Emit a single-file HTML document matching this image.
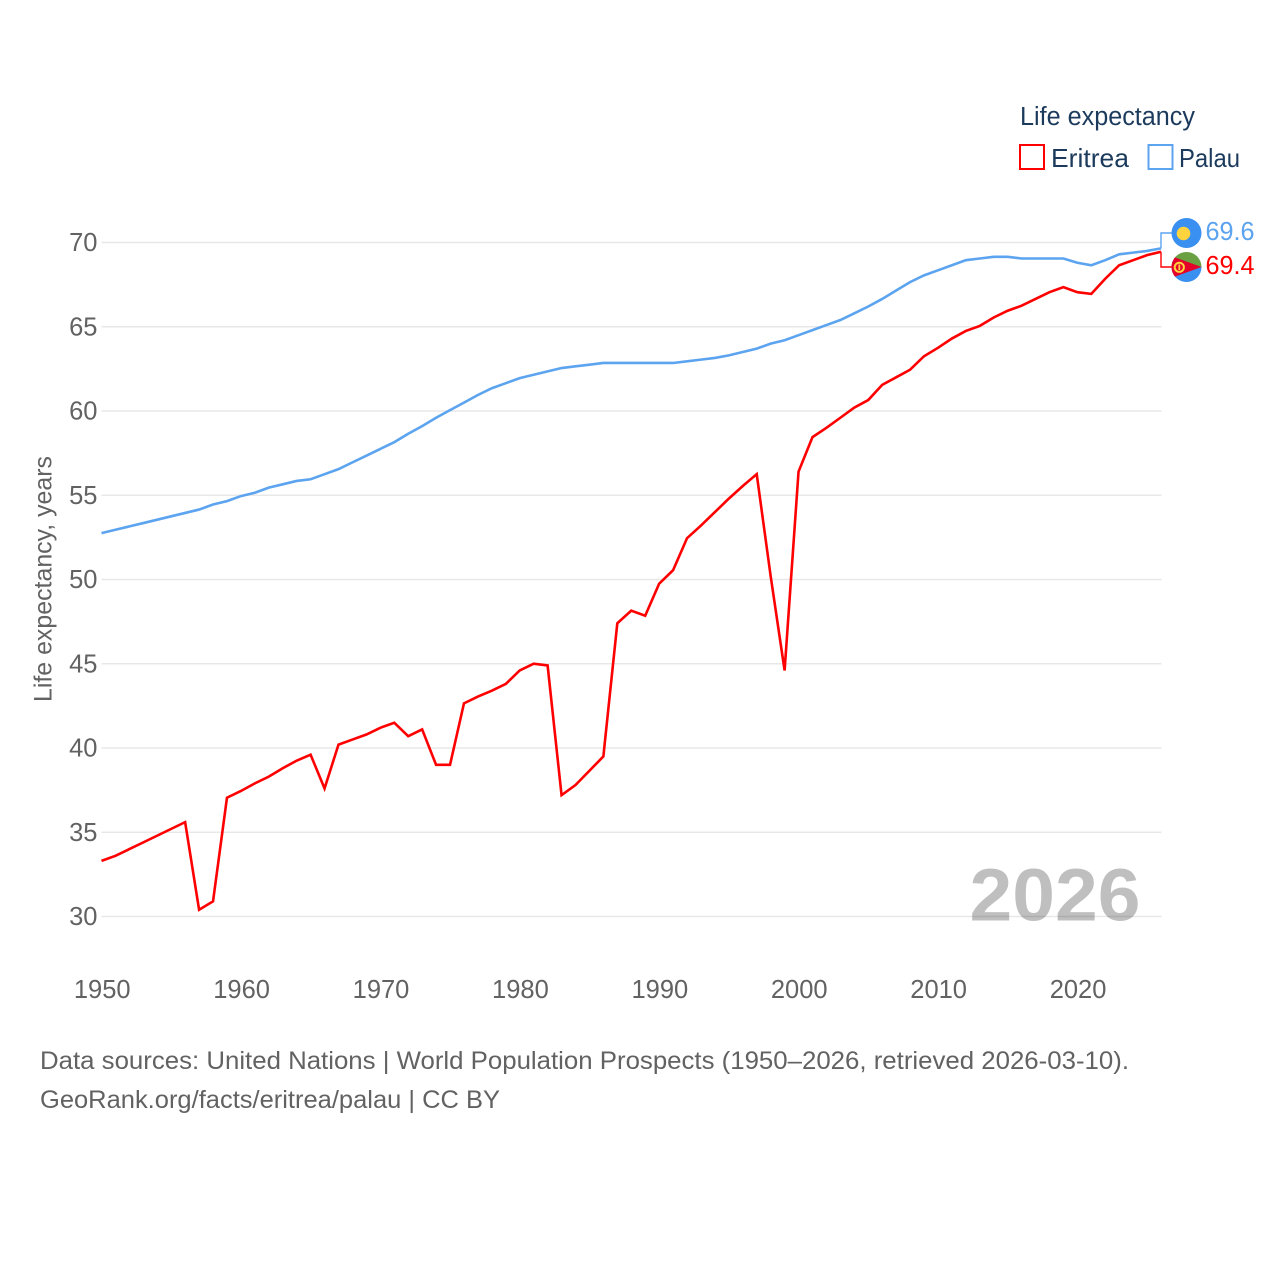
<!DOCTYPE html>
<html lang="en">
<head>
<meta charset="utf-8">
<title>Life expectancy: Eritrea and Palau</title>
<style>
html,body{margin:0;padding:0;background:#fff;width:1280px;height:1280px;overflow:hidden}
svg{display:block}
text{font-family:"Liberation Sans",sans-serif}
</style>
</head>
<body>
<svg id="chart" width="1280" height="1280" viewBox="0 0 1280 1280" xmlns="http://www.w3.org/2000/svg">
<rect x="0" y="0" width="1280" height="1280" fill="#fff"/>
<g id="grid"></g>
<g id="yticks"></g>
<g id="xticks"></g>
<text transform="translate(51.5,702) rotate(-90)" font-size="25" fill="#626262" textLength="246" lengthAdjust="spacingAndGlyphs">Life expectancy, years</text>
<text x="969.5" y="920.5" font-size="74" font-weight="700" fill="#000" fill-opacity="0.25" textLength="171" lengthAdjust="spacingAndGlyphs">2026</text>
<g id="lines"></g>
<g id="end-labels"></g>

<g>
<circle cx="1186.5" cy="233" r="15" fill="#3a90f0"/>
<circle cx="1183.5" cy="233.5" r="6.8" fill="#ffd33d"/>
</g>
<g>
<clipPath id="eritrea-clip"><circle cx="1186.5" cy="267" r="15"/></clipPath>
<g clip-path="url(#eritrea-clip)">
<rect x="1171" y="252" width="31" height="16" fill="#6a9f42"/>
<rect x="1171" y="267" width="31" height="15" fill="#3a90f0"/>
<polygon points="1171,256 1201.5,267 1171,278" fill="#e4002b"/>
<circle cx="1179.3" cy="267.3" r="4.6" fill="none" stroke="#ffd33d" stroke-width="2"/>
<rect x="1178.4" y="264.5" width="1.8" height="5.5" fill="#ffd33d"/>
</g>
</g>

<g>
<text x="1020" y="125" font-size="25.5" fill="#1b3a5c" textLength="175" lengthAdjust="spacingAndGlyphs">Life expectancy</text>
<g>
<rect x="1020" y="145" width="24" height="24" fill="#fff" stroke="#ff0000" stroke-width="2"/>
<text x="1051" y="167" font-size="26" fill="#1b3a5c" textLength="78" lengthAdjust="spacingAndGlyphs">Eritrea</text>
</g>
<g>
<rect x="1148.5" y="145" width="24" height="24" fill="#fff" stroke="#5ca4ef" stroke-width="2"/>
<text x="1179" y="167" font-size="26" fill="#1b3a5c" textLength="61" lengthAdjust="spacingAndGlyphs">Palau</text>
</g>
</g>

<text x="40" y="1069" font-size="25" fill="#626262" textLength="1089" lengthAdjust="spacingAndGlyphs">Data sources: United Nations | World Population Prospects (1950–2026, retrieved 2026-03-10).</text>
<text x="40" y="1108" font-size="25" fill="#626262" textLength="460" lengthAdjust="spacingAndGlyphs">GeoRank.org/facts/eritrea/palau | CC BY</text>
</svg>
<script>
const startYear = 1950;
const eritreaValues = [33.3,33.6,34.0,34.4,34.8,35.2,35.6,30.4,30.9,37.05,37.45,37.9,38.3,38.8,39.25,39.6,37.6,40.2,40.5,40.8,41.2,41.5,40.7,41.1,39.0,39.0,42.65,43.05,43.4,43.8,44.6,45.0,44.9,37.2,37.8,38.65,39.5,47.4,48.15,47.85,49.75,50.55,52.45,53.2,54.0,54.8,55.55,56.25,50.2,44.6,56.4,58.45,59.0,59.6,60.2,60.65,61.55,62.0,62.45,63.25,63.75,64.3,64.75,65.05,65.55,65.95,66.25,66.65,67.05,67.35,67.05,66.95,67.85,68.65,68.95,69.25,69.45];
const palauValues = [52.75,52.95,53.15,53.35,53.55,53.75,53.95,54.15,54.45,54.65,54.95,55.15,55.45,55.65,55.85,55.95,56.25,56.55,56.95,57.35,57.75,58.15,58.65,59.1,59.6,60.05,60.5,60.95,61.35,61.65,61.95,62.15,62.35,62.55,62.65,62.75,62.85,62.85,62.85,62.85,62.85,62.85,62.95,63.05,63.15,63.3,63.5,63.7,64.0,64.2,64.5,64.8,65.1,65.4,65.8,66.2,66.65,67.15,67.65,68.05,68.35,68.65,68.95,69.05,69.15,69.15,69.05,69.05,69.05,69.05,68.8,68.65,68.95,69.3,69.4,69.5,69.65];
const yTickValues = [30,35,40,45,50,55,60,65,70];
const xTickValues = [1950,1960,1970,1980,1990,2000,2010,2020];
const printedEritrea = "69.4";
const printedPalau = "69.6";

const NS = "http://www.w3.org/2000/svg";
function xScale(year){ return 101.5 + (year - 1950) * (1161 - 101.5) / 76; }
function yScale(v){ return 916.5 - (v - 30) * (916.5 - 242.5) / 40; }
function make(tag, attrs, parent){
  const el = document.createElementNS(NS, tag);
  for (const k in attrs) el.setAttribute(k, attrs[k]);
  parent.appendChild(el);
  return el;
}

const gridG = document.getElementById("grid");
const yG = document.getElementById("yticks");
yTickValues.forEach(function(v){
  const ln = make("line", {x1:101.5, x2:1161.5, y1:yScale(v), y2:yScale(v), stroke:"#e8e8e8", "stroke-width":1.5}, gridG);
  
  
  const t = make("text", {x:97.5, y:yScale(v) + 8.5, "text-anchor":"end", "font-size":25.5, fill:"#626262"}, yG);
  
  
  t.textContent = v;
});

const xG = document.getElementById("xticks");
xTickValues.forEach(function(y){
  const t = make("text", {x:xScale(y) + 0.7, y:998, "text-anchor":"middle", "font-size":25.5, fill:"#626262"}, xG);
  
  
  t.textContent = y;
});

function pathFor(values){
  return values.map(function(v, i){
    return (i ? "L" : "M") + xScale(startYear + i).toFixed(2) + " " + yScale(v).toFixed(2);
  }).join(" ");
}
const linesG = document.getElementById("lines");
const palauLine = make("path", {d:pathFor(palauValues), fill:"none", stroke:"#5ca4ef", "stroke-width":2.6, "stroke-linejoin":"miter"}, linesG);


const eritreaLine = make("path", {d:pathFor(eritreaValues), fill:"none", stroke:"#ff0000", "stroke-width":2.6, "stroke-linejoin":"miter"}, linesG);



const endG = document.getElementById("end-labels");
const endX = xScale(startYear + palauValues.length - 1);
const palauConn = make("path", {d:"M" + endX + " " + yScale(palauValues[palauValues.length-1]) + " V233 H1172", fill:"none", stroke:"#5ca4ef", "stroke-width":1.4}, endG);


const eritreaConn = make("path", {d:"M" + endX + " " + yScale(eritreaValues[eritreaValues.length-1]) + " V267 H1172", fill:"none", stroke:"#ff0000", "stroke-width":1.4}, endG);


const palauLabel = make("text", {x:1205.5, y:240, "font-size":25.5, fill:"#5ca4ef", textLength:49, lengthAdjust:"spacingAndGlyphs"}, endG);


palauLabel.textContent = printedPalau;
const eritreaLabel = make("text", {x:1205.5, y:274, "font-size":25.5, fill:"#ff0000", textLength:49, lengthAdjust:"spacingAndGlyphs"}, endG);


eritreaLabel.textContent = printedEritrea;
</script>
</body>
</html>
